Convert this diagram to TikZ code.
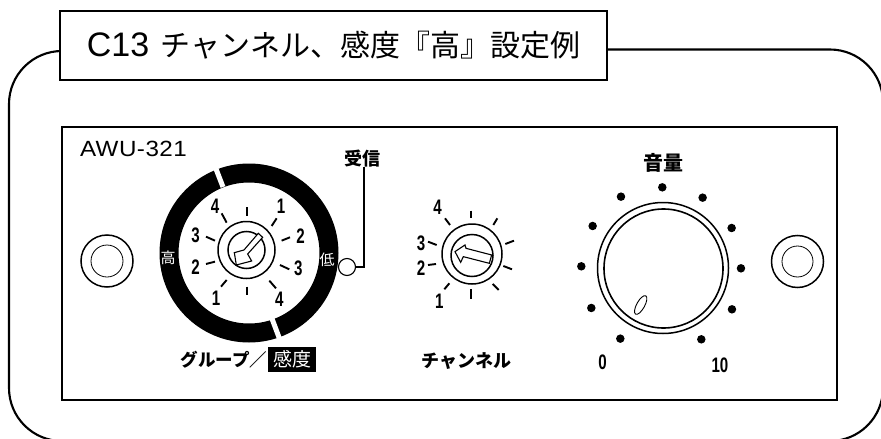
\documentclass[tikz,border=0pt]{standalone}
\usepackage{fontspec}
\usetikzlibrary{shapes.geometric}
\setmainfont{Liberation Sans}
\newfontfamily\cjk{Noto Sans CJK JP}
\tikzset{
  every node/.style={inner sep=0pt,outer sep=0pt},
  heavy/.style={line width=2.1pt},
  ringline/.style={line width=1.5pt},
  tickline/.style={line width=1.9pt},
  dignum/.style={font=\fontsize{21}{21}\selectfont\bfseries,xscale=.72},
  jlabel/.style={font=\fontsize{18}{18}\selectfont\cjk\bfseries},
  jring/.style={font=\fontsize{15}{15}\selectfont\cjk,text=white},
  voldot/.style={circle,fill=black,minimum size=8.5pt},
  zoomA/.style={shift={(130,130)},x=.3333pt,y=-.3333pt},
  zoomB/.style={shift={(430,130)},x=.3333pt,y=-.3333pt},
}
\begin{document}
\begin{tikzpicture}[x=1pt,y=-1pt]
\useasboundingbox (0,0) rectangle (881,439);
\clip (0,0) rectangle (881,439);
% outer frame
\coordinate (frameL) at (62,51);
\coordinate (frameR) at (607,49.5);
\draw[heavy,rounded corners=53pt] (frameL) -- (9,51) -- (9,441) -- (883,441) -- (883,49.5) -- (frameR);
% title
\node[draw,heavy,fill=white,minimum width=547pt,minimum height=69pt,
      font=\fontsize{30}{30}\selectfont\cjk] (title) at (333.5,45.5)
      {{\fontsize{34}{34}\selectfont\addfontfeature{LetterSpace=10}\rmfamily C13}\hspace{5pt} チャンネル、感度『高』設定例};
% panel
\node[draw,heavy,minimum width=775pt,minimum height=273pt] (panel) at (449.5,263.5) {};
\node[font=\fontsize{22}{22}\selectfont\addfontfeature{LetterSpace=2},xscale=1.1,anchor=west] (model) at (80,149) {AWU-321};
% side knobs
\node[draw,circle,ringline,minimum size=52pt] (knobL) at (107,261) {};
\node[draw,circle,line width=.8pt,minimum size=32pt] (knobLi) at (107,261) {};
\node[draw,circle,ringline,minimum size=52pt] (knobR) at (797.5,261.5) {};
\node[draw,circle,line width=.8pt,minimum size=31pt] (knobRi) at (797.5,261.5) {};
% group/sensitivity ring
\coordinate (gc) at (249,253);
\fill[even odd rule] (gc) circle[radius=89.5pt] (gc) circle[radius=70.5pt];
\draw[white,line width=5pt] (214.5,165) -- (223,187);
\draw[white,line width=5pt] (271,316) -- (280,340);
\node[jring] (hi) at (168,258) {高};
\node[jring] (lo) at (327,260) {低};
% receive LED
\node[draw,circle,line width=1.1pt,minimum size=17pt] (led) at (347,267) {};
\node[jlabel,anchor=south] (rx) at (362,167) {受信};
\draw[line width=1.5pt] ([xshift=2pt]rx.south) |- (led.east);
% group knob
\node[draw,circle,ringline,minimum size=57pt] (gk) at (246.5,250) {};
\node[draw,circle,ringline,minimum size=37pt] (gki) at (246.5,250) {};
\begin{scope}[zoomA]
  \draw[line width=1.1pt,line join=miter,fill=white] (385,310) -- (342,360) -- (313,368) -- (319,405) -- (365,393) -- (353,372) -- (398,322) -- cycle;
  \foreach \a/\b/\c/\d in {350/232/350/258, 275/250/290/278, 228/320/255/332, 228/402/255/395, 273/470/290/450,
     352/470/352/495, 418/452/438/475, 450/405/478/418, 455/332/480/322, 425/288/440/265}
     \draw[tickline] (\a,\b) -- (\c,\d);
  \node[dignum] (g4a) at (255,230) {4};
  \node[dignum] (g1a) at (453,230) {1};
  \node[dignum] (g3a) at (197,315) {3};
  \node[dignum] (g2a) at (512,318) {2};
  \node[dignum] (g2b) at (197,412) {2};
  \node[dignum] (g3b) at (505,415) {3};
  \node[dignum] (g1b) at (258,505) {1};
  \node[dignum] (g4b) at (448,508) {4};
\end{scope}
\node[font=\fontsize{17.5}{18}\selectfont\cjk\bfseries,anchor=east] (grp) at (267,360) {グループ／};
\node[fill=black,text=white,minimum width=48pt,minimum height=25pt,font=\fontsize{19}{19}\selectfont\cjk] (sens) at (292,359.5) {感度};
% channel dial
\node[draw,circle,ringline,minimum size=60pt] (ck) at (472,254) {};
\node[draw,circle,ringline,minimum size=42pt] (cki) at (472,255.5) {};
\begin{scope}[zoomB]
  \draw[line width=1.1pt,fill=white] (185,375) -- (108,355) -- (105,345) -- (75,365) -- (92,397) -- (100,380) -- (178,400) -- cycle;
  \foreach \a/\b/\c/\d in {122/242/122/265, 190/285/202/265, 226/342/252/332, 220/408/246/418, 188/462/206/480,
     122/478/122/508, 43/478/58/460, -6/405/18/402, -6/335/20/345, 45/265/60/285}
     \draw[tickline] (\a,\b) -- (\c,\d);
  \node[dignum] (c4) at (23,233) {4};
  \node[dignum] (c3) at (-27,340) {3};
  \node[dignum] (c2) at (-27,414) {2};
  \node[dignum] (c1) at (28,515) {1};
  % volume
  \foreach \n/\p in {a/{697,172},b/{818,203},c/{905,294},d/{933,415},e/{906,538},f/{814,628},g/{571,626},h/{484,534},i/{454,409},j/{488,288},k/{573,200}}
     \node[voldot] (vd\n) at (\p) {};
  \node[dignum] (v0) at (518,697) {0};
  \node[dignum] (v10) at (870,705) {10};
\end{scope}
\node[jlabel,anchor=east] (chn) at (511,361) {チャンネル};
\node[font=\fontsize{20}{20}\selectfont\cjk\bfseries] (vol) at (663,163) {音量};
\node[draw,circle,ringline,minimum size=131pt] (vk) at (663,268) {};
\node[draw,circle,line width=1.6pt,minimum size=119pt] (vki) at (663.5,268.5) {};
\node[draw,ellipse,line width=.9pt,minimum width=21pt,minimum height=8pt,rotate=61] (vm) at (640.7,305) {};
\end{tikzpicture}
\end{document}
